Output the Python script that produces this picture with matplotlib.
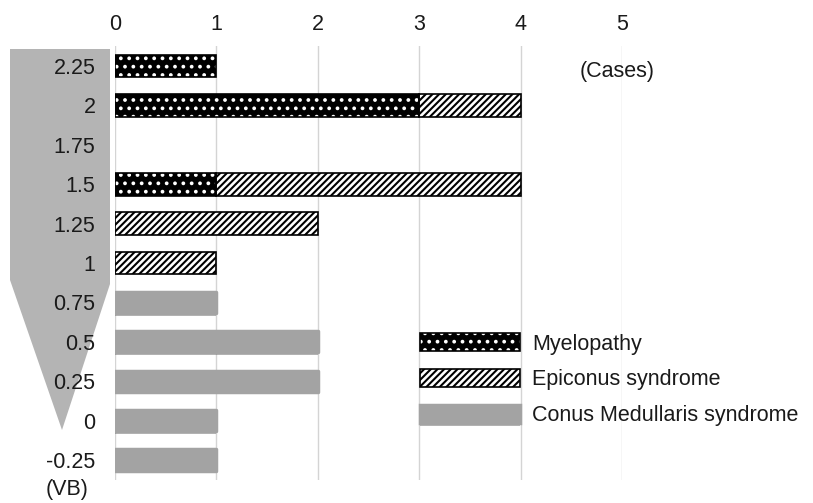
import matplotlib
matplotlib.use("Agg")
import matplotlib.pyplot as plt
import numpy as np
from matplotlib.patches import Patch, Polygon
from matplotlib.legend_handler import HandlerTuple
import matplotlib.patheffects as pe

plt.rcParams['font.family'] = ['Liberation Sans', 'DejaVu Sans']
plt.rcParams['hatch.linewidth'] = 1.5

# Data
levels = ["2.25", "2", "1.75", "1.5", "1.25", "1", "0.75", "0.5", "0.25", "0", "-0.25"]
myelopathy = [1, 3, 0, 1, 0, 0, 0, 0, 0, 0, 0]
epiconus   = [0, 1, 0, 3, 2, 1, 0, 0, 0, 0, 0]
conus      = [0, 0, 0, 0, 0, 0, 1, 2, 2, 1, 1]
x_ticks = [0, 1, 2, 3, 4, 5]

W, H = 813, 503
fig = plt.figure(figsize=(W / 100, H / 100), dpi=100)

# decorative gray arrow behind y labels (figure pixel coords, top origin)
shape_px = [(10, 49), (110, 49), (110, 284), (62, 430), (10, 280)]
poly = Polygon([(x / W, 1 - y / H) for x, y in shape_px], closed=True,
               transform=fig.transFigure, facecolor='#b4b4b4', edgecolor='none', zorder=-5)
fig.patches.append(poly)

ax = fig.add_axes([115 / W, 23.3 / H, 507 / W, 433.4 / H])
ax.set_facecolor('none')
ax.set_zorder(1)

y = np.arange(len(levels))
bh = 0.58

my = np.array(myelopathy, dtype=float)
ep = np.array(epiconus, dtype=float)
co = np.array(conus, dtype=float)

HATCH_M = '..'
HATCH_E = '/////'

mask_m = my > 0
ax.barh(y[mask_m], my[mask_m], height=bh, color='black', edgecolor='white',
        hatch=HATCH_M, linewidth=0, zorder=3)
ax.barh(y[mask_m], my[mask_m], height=bh, fill=False, edgecolor='black',
        linewidth=1.2, zorder=4)

mask_e = ep > 0
ax.barh(y[mask_e], ep[mask_e], left=my[mask_e], height=bh, color='white',
        edgecolor='black', hatch=HATCH_E, linewidth=1.2, zorder=3)

shadow = [pe.SimplePatchShadow(offset=(0, -2), shadow_rgbFace='#606060', alpha=0.45), pe.Normal()]
mask_c = co > 0
bars_c = ax.barh(y[mask_c], co[mask_c], height=bh * 0.92, color='#a3a3a3',
                 edgecolor='#a3a3a3', linewidth=2.5, joinstyle='round', zorder=3)
for b in bars_c:
    b.set_path_effects(shadow)

ax.set_xlim(0, 5)
ax.set_ylim(len(levels) - 0.5, -0.5)
ax.set_yticks(y)
ax.set_yticklabels(levels)
ax.set_xticks(x_ticks)
ax.xaxis.tick_top()
ax.tick_params(axis='both', length=0, labelsize=15.5, colors='#1a1a1a')
ax.tick_params(axis='y', pad=14)
ax.tick_params(axis='x', pad=8)
for s in ax.spines.values():
    s.set_visible(False)
ax.grid(axis='x', color='#d4d4d4', linewidth=1, zorder=0)
ax.set_axisbelow(True)

fig.text(617 / W, 1 - 72 / H, "(Cases)", ha='center', va='center', fontsize=15.5, color='#1a1a1a')
fig.text(67 / W, 1 - 490 / H, "(VB)", ha='center', va='center', fontsize=15.5, color='#1a1a1a')

h_m = (Patch(facecolor='black', edgecolor='white', hatch=HATCH_M, linewidth=0),
       Patch(fill=False, edgecolor='black', linewidth=1.2))
h_e = Patch(facecolor='white', edgecolor='black', hatch=HATCH_E, linewidth=1.2)
h_c = Patch(facecolor='#a3a3a3', edgecolor='#a3a3a3', linewidth=2.5, joinstyle='round')
h_c.set_path_effects(shadow)

leg = fig.legend([h_m, h_e, h_c], ["Myelopathy", "Epiconus syndrome", "Conus Medullaris syndrome"],
                 handler_map={tuple: HandlerTuple(ndivide=1, pad=0)},
                 loc='upper left', bbox_to_anchor=(420 / W, 1 - 333 / H),
                 frameon=False, fontsize=15.5, handlelength=4.65, handleheight=0.93,
                 handletextpad=0.55, labelspacing=0.66, borderpad=0, borderaxespad=0)
for t in leg.get_texts():
    t.set_color('#1a1a1a')

fig.savefig("out.png", dpi=100)
